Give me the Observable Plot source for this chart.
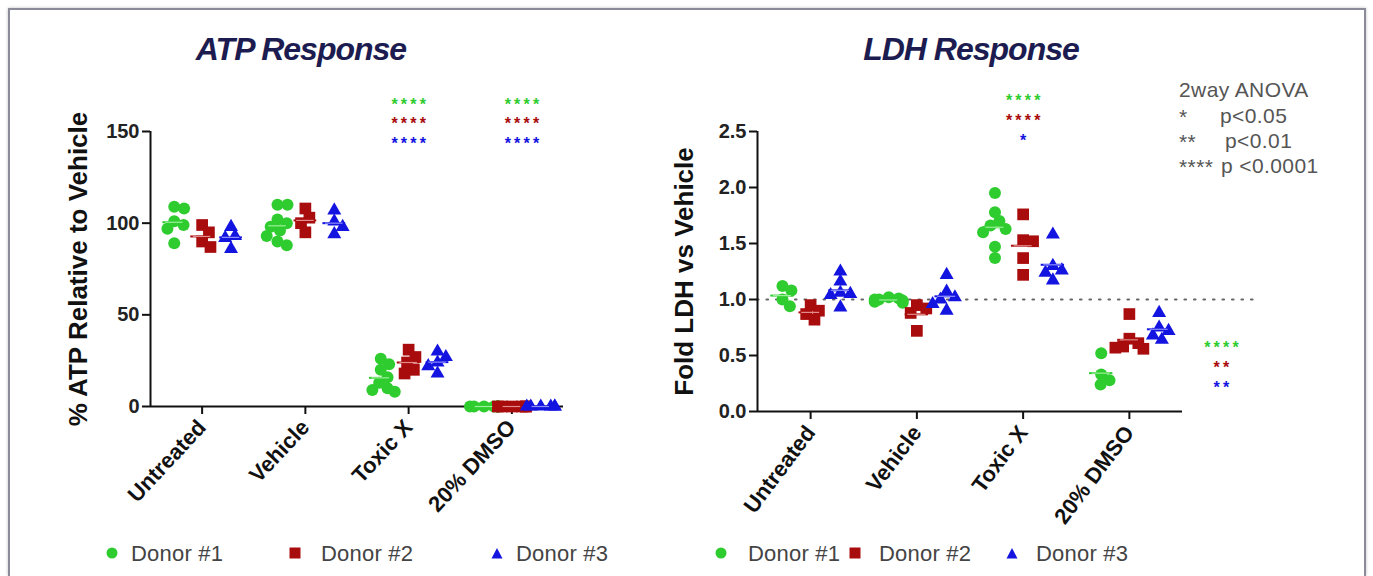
<!DOCTYPE html>
<html>
<head>
<meta charset="utf-8">
<script src="https://cdn.jsdelivr.net/npm/d3@7"></script>
<script src="https://cdn.jsdelivr.net/npm/@observablehq/plot@0.6"></script>
<style>
  body { margin: 0; background: #fff; font-family: "Liberation Sans", Arial, sans-serif; }
  #wrap { position: relative; width: 1373px; height: 576px; overflow: hidden; background: #fff; }
  .frame { position: absolute; left: 8px; top: 8px; width: 1358px; height: 568px; border: 2px solid #8a8a98; border-bottom: none; box-sizing: border-box; box-shadow: 0 0 3px rgba(0,0,0,0.25); }
  .chart { position: absolute; top: 0; }
  .title { position: absolute; top: 31px; font-weight: bold; font-style: italic; font-size: 32px; color: #1c1c50; transform: translateX(-50%); letter-spacing: -1px; white-space: nowrap; }
  .anova { position: absolute; font-size: 21px; color: #555; white-space: nowrap; letter-spacing: 0.4px; }
  .anova span { position: absolute; top: 0; }
  .leg { position: absolute; top: 541px; font-size: 22px; color: #444; white-space: nowrap; letter-spacing: 0.2px; }
  .legsym { position: absolute; top: 546px; }
</style>
</head>
<body>
<div id="wrap">
  <div class="frame"></div>
</div>
<script>
// ---------------- data ----------------
const categories = ["Untreated", "Vehicle", "Toxic X", "20% DMSO"];
const donors = ["Donor #1", "Donor #2", "Donor #3"];

// ATP (% relative to vehicle), one list per category
const atpDonor1 = [[109, 108, 101, 99, 97, 89], [110, 110, 102, 100, 98, 96, 93, 90, 88], [26, 23, 20, 16, 13, 10, 9, 8], [0, 0, 0, 0, 0, 0, 0, 0]];
const atpDonor2 = [[99, 95, 90, 87], [108, 103, 100, 95], [31, 27, 24, 20, 18], [0, 0, 0, 0, 0, 0]];
const atpDonor3 = [[98, 93, 92, 86], [107, 101, 98, 94], [30, 27, 24, 22, 18], [0, 0, 0, 0, 0, 0]];

// LDH (fold vs vehicle)
const ldhDonor1 = [[1.12, 1.08, 1.0, 0.94], [1.02, 1.01, 1.0, 1.0, 0.99, 0.98, 0.97], [1.95, 1.78, 1.70, 1.66, 1.63, 1.60, 1.47, 1.37], [0.52, 0.33, 0.28, 0.24]];
const ldhDonor2 = [[0.95, 0.90, 0.87, 0.82], [0.95, 0.92, 0.88, 0.72], [1.76, 1.53, 1.52, 1.37, 1.22], [0.87, 0.65, 0.61, 0.58, 0.57, 0.56]];
const ldhDonor3 = [[1.25, 1.16, 1.06, 1.05, 1.04, 0.93], [1.22, 1.07, 1.02, 1.0, 0.96, 0.90], [1.58, 1.30, 1.26, 1.24, 1.17], [0.88, 0.75, 0.72, 0.68, 0.64]];

const atpTicks = [0, 50, 100, 150];
const ldhTicks = [0, 0.5, 1.0, 1.5, 2.0, 2.5];
const ldhReference = [1.0];

// significance marks (rows: donor 1, 2, 3)
const atpStarCategories = ["Toxic X", "20% DMSO"];
const atpStarLabels = [["****", "****", "****"], ["****", "****", "****"]];
const ldhStarCategories = ["Toxic X", "20% DMSO"];
const ldhStarLabels = [["****", "****", "*"], ["****", "**", "**"]];

const anovaHead = "2way ANOVA";
const anovaStars = ["*", "**", "****"];
const anovaText = ["p<0.05", "p<0.01", "p <0.0001"];

// ---------------- style ----------------
const FONT = "'Liberation Sans', Arial, sans-serif";
const donorColors = ["#2fcc2f", "#a80c0c", "#1414e0"];
const donorTints = ["#9af09a", "#e38a8a", "#8c8cff"];
const donorSymbols = ["circle", "square", "triangle"];
const donorR = [6, 6.6, 5.2];

function swarm(values, yPx, radius, maxOff) {
  const placed = [];
  const offs = new Array(values.length);
  const order = values.map((v, i) => i).sort((a, b) => values[b] - values[a]);
  const d2 = 4 * radius * radius;
  for (const i of order) {
    const py = yPx(values[i]);
    const cands = [0];
    for (const p of placed) {
      const dy = Math.abs(py - p.y);
      if (dy < 2 * radius) {
        const dx = Math.sqrt(d2 - dy * dy);
        cands.push(p.x + dx, p.x - dx);
      }
    }
    cands.sort((a, b) => Math.abs(a) - Math.abs(b));
    let x = cands.find(c => placed.every(p => (c - p.x) ** 2 + (py - p.y) ** 2 >= d2 - 1e-6));
    if (x === undefined) x = 0;
    x = Math.max(-maxOff, Math.min(maxOff, x));
    placed.push({x, y: py});
    offs[i] = x;
  }
  return offs;
}

function buildChart(cfg) {
  const {width, height, mL, mR, mT, mB, yDomain, series, offsets} = cfg;
  const xDomain = [-0.5, 3.5];
  const yPx = d3.scaleLinear(yDomain, [height - mB, mT]);
  const pxPerUnit = (width - mL - mR) / (xDomain[1] - xDomain[0]);
  const rows = [], means = [];
  series.forEach((lists, di) => {
    lists.forEach((vals, ci) => {
      const cx = ci + offsets[di];
      const offs = swarm(vals, yPx, 5, 14);
      vals.forEach((v, k) => rows.push({cat: categories[ci], ci, di, value: v, x: cx + offs[k] / pxPerUnit}));
      means.push({ci, di, cx, mean: d3.mean(vals)});
    });
  });

  const marks = [];
  if (cfg.reference) {
    marks.push(Plot.ruleY(cfg.reference, {x1: xDomain[0], x2: xDomain[1] + cfg.refExtend, stroke: "#666", strokeWidth: 2.2, strokeDasharray: "1.5,8", strokeLinecap: "round"}));
  }
  marks.push(
    Plot.ruleX([xDomain[0]], {stroke: "#111", strokeWidth: 2}),
    Plot.ruleY([yDomain[0]], {stroke: "#111", strokeWidth: 2}),
    Plot.axisY({ticks: cfg.ticks, tickFormat: cfg.tickFormat, tickSize: 8, tickPadding: 3, fontSize: 20, fontWeight: "bold", fill: "#222", stroke: "#111", strokeWidth: 2, label: null}),
    Plot.axisX({ticks: [0, 1, 2, 3], tickFormat: i => categories[i], tickSize: 8, tickPadding: 9, tickRotate: cfg.rotate, fontSize: 22, fontWeight: "bold", fill: "#111", stroke: "#111", strokeWidth: 2, label: null}),
    Plot.text([cfg.yLabel], {text: d => d, frameAnchor: "left", textAnchor: "middle", rotate: -90, dx: cfg.yLabelDx, fontSize: 26, fontWeight: "bold", fill: "#111"})
  );
  for (let di = 0; di < 3; di++) {
    marks.push(Plot.ruleY(means.filter(d => d.di === di), {y: "mean", x1: d => d.cx - 0.11, x2: d => d.cx + 0.11, stroke: donorColors[di], strokeWidth: 2}));
  }
  for (let di = 0; di < 3; di++) {
    marks.push(Plot.dot(rows.filter(d => d.di === di), {x: "x", y: "value", symbol: donorSymbols[di], r: donorR[di], fill: donorColors[di], stroke: "none"}));
  }
  for (let di = 0; di < 3; di++) {
    marks.push(Plot.ruleY(means.filter(d => d.di === di), {y: "mean", x1: d => d.cx - 0.085, x2: d => d.cx + 0.085, stroke: donorTints[di], strokeWidth: 1.2}));
  }
  cfg.stars.forEach(s => {
    for (let di = 0; di < 3; di++) {
      marks.push(Plot.text([s.labels[di]], {x: () => categories.indexOf(s.cat), text: d => d.split("").join("\u2009"), frameAnchor: s.anchor, dx: s.dx, dy: s.dy[di], fill: donorColors[di], fontSize: 16, fontWeight: "bold"}));
    }
  });

  return Plot.plot({
    width, height, marginLeft: mL, marginRight: mR, marginTop: mT, marginBottom: mB,
    x: {domain: xDomain}, y: {domain: yDomain},
    style: {fontFamily: FONT, background: "transparent", overflow: "visible", color: "#111"},
    marks
  });
}

const wrap = document.getElementById("wrap");

const atp = buildChart({
  width: 680, height: 540, mL: 150, mR: 117, mT: 131, mB: 134,
  yDomain: [0, 150], ticks: atpTicks, tickFormat: d => String(d),
  series: [atpDonor1, atpDonor2, atpDonor3], offsets: [-0.27, 0, 0.28],
  rotate: -47, yLabel: "% ATP Relative to Vehicle", yLabelDx: -72,
  stars: [
    {cat: atpStarCategories[0], labels: atpStarLabels[0], anchor: "top", dx: 0, dy: [-33, -14, 6]},
    {cat: atpStarCategories[1], labels: atpStarLabels[1], anchor: "top", dx: 10, dy: [-33, -14, 6]}
  ]
});
atp.classList.add("chart");
atp.style.left = "0px";
wrap.appendChild(atp);

const ldh = buildChart({
  width: 693, height: 540, mL: 77, mR: 191, mT: 131, mB: 129,
  yDomain: [0, 2.5], ticks: ldhTicks, tickFormat: d3.format(".1f"),
  series: [ldhDonor1, ldhDonor2, ldhDonor3], offsets: [-0.265, 0, 0.28],
  rotate: -53, yLabel: "Fold LDH vs Vehicle", yLabelDx: -73,
  reference: ldhReference, refExtend: 0.72,
  stars: [
    {cat: ldhStarCategories[0], labels: ldhStarLabels[0], anchor: "top", dx: 0, dy: [-37, -17, 3]},
    {cat: ldhStarCategories[1], labels: ldhStarLabels[1], anchor: "bottom", dx: 92, dy: [-59, -39, -19]}
  ]
});
ldh.classList.add("chart");
ldh.style.left = "680px";
wrap.appendChild(ldh);

// titles
[["ATP Response", 301], ["LDH Response", 971]].forEach(([t, x]) => {
  const d = document.createElement("div");
  d.className = "title"; d.textContent = t; d.style.left = x + "px";
  wrap.appendChild(d);
});

// ANOVA note
const an = document.createElement("div");
an.className = "anova"; an.style.left = "1179px"; an.style.top = "0px";
const head = document.createElement("span"); head.textContent = anovaHead; head.style.top = "78px"; head.style.left = "0px";
an.appendChild(head);
const textX = [41, 46, 42];
anovaStars.forEach((s, i) => {
  const a = document.createElement("span"); a.textContent = s; a.style.top = (105 + i * 25) + "px"; a.style.left = "0px";
  const b = document.createElement("span"); b.textContent = anovaText[i]; b.style.top = (104 + i * 25) + "px"; b.style.left = textX[i] + "px";
  an.appendChild(a); an.appendChild(b);
});
wrap.appendChild(an);

// legends
function symbolSvg(kind, color) {
  const s = document.createElementNS("http://www.w3.org/2000/svg", "svg");
  s.setAttribute("width", 14); s.setAttribute("height", 14);
  let el;
  if (kind === "circle") { el = document.createElementNS(s.namespaceURI, "circle"); el.setAttribute("cx", 7); el.setAttribute("cy", 7); el.setAttribute("r", 5.5); }
  else if (kind === "square") { el = document.createElementNS(s.namespaceURI, "rect"); el.setAttribute("x", 1.5); el.setAttribute("y", 1.5); el.setAttribute("width", 11); el.setAttribute("height", 11); }
  else { el = document.createElementNS(s.namespaceURI, "path"); el.setAttribute("d", "M7,2 L12.5,12.5 L1.5,12.5 Z"); }
  el.setAttribute("fill", color);
  s.appendChild(el);
  return s;
}
const legendSets = [
  {sym: [112, 295, 497], txt: [131, 321, 516]},
  {sym: [721, 855, 1012], txt: [748, 879, 1036]}
];
legendSets.forEach(set => {
  donors.forEach((name, i) => {
    const sv = symbolSvg(donorSymbols[i], donorColors[i]);
    sv.classList.add("legsym"); sv.style.left = (set.sym[i] - 7) + "px";
    wrap.appendChild(sv);
    const t = document.createElement("div");
    t.className = "leg"; t.textContent = name; t.style.left = set.txt[i] + "px";
    wrap.appendChild(t);
  });
});
</script>
</body>
</html>
